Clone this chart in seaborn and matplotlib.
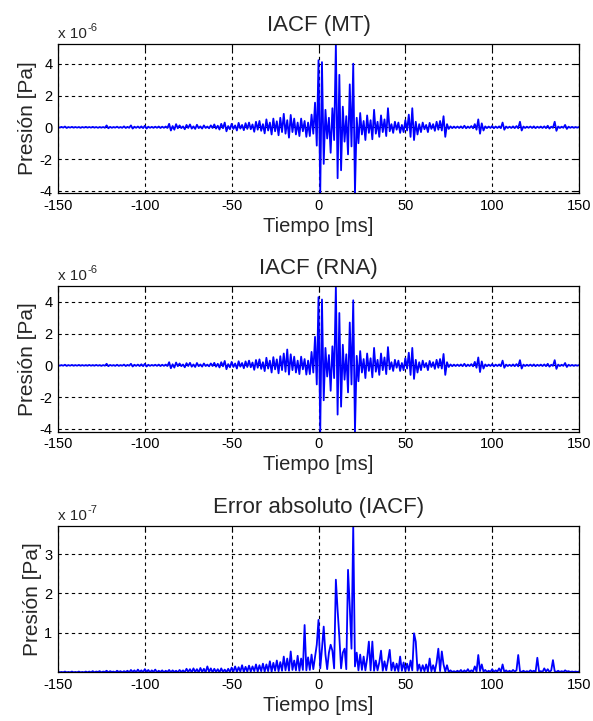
import numpy as np
import pandas as pd
import matplotlib
matplotlib.use('Agg')
import matplotlib.pyplot as plt
import seaborn as sns

# one sample per millisecond, -150 ... 150 ms
time_ms = np.arange(-150, 151)

# IACF (MT), units of 1e-6 Pa
iacf_mt = [
    0.02, -0.02, 0.03, -0.02, 0.05, -0.04, 0.02, -0.02, 0.03, -0.02,
    0.02, -0.02, 0.02, -0.03, 0.02, -0.02, 0.03, -0.02, 0.02, -0.02,
    0.03, -0.02, 0.02, -0.03, 0.02, -0.02, 0.02, -0.03, 0.12, -0.06,
    0.03, -0.03, 0.02, -0.02, 0.04, -0.03, 0.02, -0.03, 0.06, -0.04,
    0.03, -0.03, 0.12, -0.08, 0.04, -0.03, 0.05, -0.04, 0.06, -0.05,
    0.10, -0.08, 0.04, -0.03, 0.03, -0.03, 0.04, -0.03, 0.05, -0.04,
    0.04, -0.03, 0.05, -0.04, 0.22, -0.20, 0.08, -0.15, 0.20, -0.06,
    0.12, -0.05, 0.06, -0.12, 0.15, -0.04, 0.18, -0.08, 0.06, -0.10,
    0.16, -0.05, 0.06, -0.08, 0.12, -0.04, 0.05, -0.06, 0.12, -0.04,
    0.18, -0.08, 0.10, -0.14, 0.22, -0.06, 0.30, -0.25, 0.08, -0.12,
    0.22, -0.10, 0.12, -0.20, 0.28, -0.08, 0.15, -0.18, 0.26, -0.10,
    0.30, -0.12, 0.18, -0.28, 0.35, -0.15, 0.40, -0.22, 0.20, -0.38,
    0.50, -0.20, 0.30, -0.45, 0.55, -0.25, 0.38, -0.50, 0.60, -0.30,
    0.85, -0.40, 0.45, -0.65, 0.78, -0.30, 0.55, -0.45, 0.30, -0.55,
    0.55, -0.25, 0.40, -0.60, 0.30, -0.55, 0.80, -0.40, 1.55, -1.15,
    4.22, -4.13, 4.10, -2.30, 1.10, -0.70, 0.60, -1.60, 1.20, -0.80,
    5.24, -3.20, 3.30, -2.70, 1.30, -0.90, 0.70, -1.70, 2.70, -1.20,
    4.00, -4.13, 0.60, -1.00, 0.90, -0.45, 0.40, -0.80, 0.75, -0.35,
    0.45, -0.75, 1.10, -0.40, 0.35, -0.60, 0.75, -0.30, 0.50, -0.55,
    1.20, -0.25, 0.20, -0.35, 0.35, -0.15, 0.30, -0.35, 0.15, -0.30,
    0.45, -0.20, 0.80, -0.60, 1.20, -0.80, 0.35, -0.45, 0.20, -0.30,
    0.30, -0.12, 0.15, -0.30, 0.28, -0.10, 0.20, -0.22, 0.35, -0.15,
    0.40, -0.20, 0.70, -0.60, 0.20, -0.10, 0.06, -0.05, 0.05, -0.04,
    0.05, -0.04, 0.06, -0.05, 0.10, -0.06, 0.05, -0.04, 0.08, -0.06,
    0.20, -0.15, 0.50, -0.40, 0.25, -0.20, 0.06, -0.05, 0.05, -0.04,
    0.08, -0.06, 0.05, -0.04, 0.06, -0.05, 0.30, -0.15, 0.05, -0.04,
    0.04, -0.04, 0.06, -0.05, 0.08, -0.06, 0.35, -0.20, 0.05, -0.04,
    0.04, -0.03, 0.05, -0.04, 0.06, -0.05, 0.04, -0.03, 0.05, -0.04,
    0.06, -0.05, 0.10, -0.08, 0.04, -0.03, 0.35, -0.22, 0.05, -0.04,
    0.04, -0.03, 0.15, -0.10, 0.04, -0.03, 0.03, -0.03, 0.02, -0.02,
    0.02,
]

# IACF (RNA), units of 1e-6 Pa
iacf_rna = [
    0.02, -0.02, 0.02, -0.02, 0.04, -0.03, 0.02, -0.02, 0.03, -0.02,
    0.02, -0.02, 0.03, -0.02, 0.02, -0.02, 0.02, -0.02, 0.03, -0.02,
    0.02, -0.02, 0.03, -0.02, 0.02, -0.03, 0.02, -0.02, 0.10, -0.05,
    0.03, -0.02, 0.02, -0.03, 0.04, -0.03, 0.02, -0.02, 0.05, -0.04,
    0.03, -0.02, 0.10, -0.07, 0.04, -0.03, 0.05, -0.04, 0.07, -0.05,
    0.10, -0.07, 0.04, -0.03, 0.03, -0.02, 0.04, -0.03, 0.05, -0.04,
    0.04, -0.03, 0.05, -0.04, 0.20, -0.18, 0.07, -0.14, 0.18, -0.05,
    0.12, -0.05, 0.06, -0.12, 0.14, -0.04, 0.16, -0.08, 0.06, -0.10,
    0.15, -0.05, 0.06, -0.08, 0.12, -0.04, 0.05, -0.06, 0.12, -0.04,
    0.16, -0.08, 0.10, -0.13, 0.20, -0.06, 0.28, -0.24, 0.08, -0.12,
    0.22, -0.10, 0.12, -0.20, 0.26, -0.08, 0.15, -0.18, 0.25, -0.10,
    0.30, -0.12, 0.18, -0.28, 0.34, -0.15, 0.38, -0.22, 0.20, -0.36,
    0.48, -0.20, 0.30, -0.45, 0.52, -0.25, 0.38, -0.50, 0.58, -0.30,
    0.75, -0.40, 1.00, -0.58, 0.70, -0.30, 0.55, -0.45, 0.30, -0.55,
    0.55, -0.25, 0.40, -0.58, 0.30, -0.55, 0.85, -0.45, 1.80, -1.20,
    4.30, -4.18, 4.15, -2.20, 1.10, -0.70, 0.65, -1.60, 1.20, -0.80,
    5.00, -3.10, 3.30, -2.60, 1.30, -0.90, 0.70, -1.70, 2.70, -1.20,
    4.10, -4.18, 0.60, -1.00, 0.90, -0.45, 0.40, -0.80, 0.75, -0.35,
    0.45, -0.75, 1.10, -0.40, 0.35, -0.60, 0.75, -0.30, 0.50, -0.55,
    1.15, -0.25, 0.20, -0.35, 0.35, -0.15, 0.30, -0.35, 0.15, -0.30,
    0.45, -0.20, 0.80, -0.60, 1.10, -0.85, 0.35, -0.45, 0.20, -0.30,
    0.30, -0.12, 0.15, -0.30, 0.28, -0.10, 0.20, -0.22, 0.35, -0.15,
    0.40, -0.20, 0.72, -0.60, 0.20, -0.10, 0.06, -0.05, 0.05, -0.04,
    0.05, -0.04, 0.06, -0.05, 0.10, -0.06, 0.05, -0.04, 0.08, -0.06,
    0.22, -0.15, 0.50, -0.42, 0.25, -0.20, 0.06, -0.05, 0.05, -0.04,
    0.08, -0.06, 0.05, -0.04, 0.06, -0.05, 0.30, -0.15, 0.05, -0.04,
    0.04, -0.04, 0.06, -0.05, 0.08, -0.06, 0.33, -0.20, 0.05, -0.04,
    0.04, -0.03, 0.05, -0.04, 0.06, -0.05, 0.04, -0.03, 0.05, -0.04,
    0.06, -0.05, 0.10, -0.08, 0.04, -0.03, 0.33, -0.22, 0.05, -0.04,
    0.04, -0.03, 0.15, -0.10, 0.04, -0.03, 0.03, -0.03, 0.02, -0.02,
    0.02,
]

# absolute error |MT - RNA|, units of 1e-7 Pa
abs_error = [
    0.02, 0.00, 0.01, 0.00, 0.02, 0.00, 0.01, 0.00, 0.02, 0.00,
    0.01, 0.00, 0.02, 0.00, 0.01, 0.00, 0.02, 0.00, 0.02, 0.00,
    0.03, 0.00, 0.02, 0.01, 0.03, 0.00, 0.02, 0.01, 0.04, 0.00,
    0.03, 0.01, 0.02, 0.00, 0.04, 0.01, 0.03, 0.00, 0.03, 0.01,
    0.04, 0.00, 0.06, 0.01, 0.05, 0.00, 0.07, 0.01, 0.05, 0.00,
    0.08, 0.01, 0.06, 0.00, 0.05, 0.01, 0.07, 0.00, 0.04, 0.01,
    0.05, 0.00, 0.04, 0.01, 0.06, 0.00, 0.05, 0.01, 0.04, 0.00,
    0.06, 0.01, 0.05, 0.00, 0.09, 0.01, 0.08, 0.00, 0.10, 0.01,
    0.08, 0.00, 0.11, 0.01, 0.09, 0.00, 0.15, 0.01, 0.10, 0.00,
    0.09, 0.01, 0.08, 0.00, 0.10, 0.01, 0.07, 0.00, 0.09, 0.01,
    0.12, 0.02, 0.15, 0.01, 0.13, 0.02, 0.18, 0.01, 0.14, 0.02,
    0.17, 0.02, 0.15, 0.03, 0.20, 0.02, 0.18, 0.03, 0.22, 0.02,
    0.20, 0.03, 0.28, 0.02, 0.24, 0.04, 0.30, 0.03, 0.26, 0.04,
    0.40, 0.05, 0.35, 0.04, 0.53, 0.06, 0.30, 0.05, 0.42, 0.04,
    0.35, 0.06, 1.20, 0.05, 0.38, 0.06, 0.45, 0.08, 0.40, 0.70,
    1.33, 0.10, 0.60, 1.16, 0.45, 0.08, 0.50, 0.70, 0.55, 0.10,
    2.35, 1.58, 0.90, 0.10, 0.50, 0.60, 0.08, 2.60, 1.67, 0.60,
    3.72, 0.15, 0.50, 0.05, 0.45, 0.06, 0.40, 0.05, 0.35, 0.78,
    0.05, 0.78, 0.04, 0.30, 0.05, 0.25, 0.55, 0.04, 0.28, 0.05,
    0.30, 0.57, 0.05, 0.25, 0.04, 0.22, 0.03, 0.40, 0.04, 0.25,
    0.03, 0.22, 0.04, 0.30, 0.05, 0.99, 0.78, 0.04, 0.20, 0.03,
    0.18, 0.03, 0.20, 0.02, 0.35, 0.03, 0.18, 0.02, 0.25, 0.60,
    0.03, 0.53, 0.20, 0.02, 0.18, 0.01, 0.05, 0.01, 0.03, 0.01,
    0.04, 0.01, 0.06, 0.00, 0.05, 0.01, 0.08, 0.01, 0.05, 0.02,
    0.15, 0.02, 0.44, 0.03, 0.20, 0.02, 0.06, 0.01, 0.04, 0.01,
    0.08, 0.01, 0.05, 0.02, 0.10, 0.01, 0.20, 0.01, 0.05, 0.01,
    0.04, 0.01, 0.06, 0.02, 0.05, 0.44, 0.03, 0.01, 0.04, 0.01,
    0.03, 0.01, 0.05, 0.02, 0.04, 0.01, 0.37, 0.02, 0.03, 0.01,
    0.10, 0.02, 0.08, 0.01, 0.05, 0.31, 0.03, 0.01, 0.04, 0.01,
    0.03, 0.01, 0.05, 0.02, 0.03, 0.01, 0.02, 0.01, 0.02, 0.01,
    0.02,
]

titles = ['IACF (MT)', 'IACF (RNA)', 'Error absoluto (IACF)']
exponents = ['-6', '-6', '-7']
ytick_sets = [[-4, -2, 0, 2, 4], [-4, -2, 0, 2, 4], [1, 2, 3]]
xticks = [-150, -100, -50, 0, 50, 100, 150]

sns.set_style('white')
plt.rcParams['font.family'] = ['Liberation Sans', 'DejaVu Sans']
plt.rcParams['axes.unicode_minus'] = False

fig = plt.figure(figsize=(5.93, 7.21), dpi=100)
boxes = [
    [0.0978, 0.7323, 0.8786, 0.2067],
    [0.0978, 0.4012, 0.8786, 0.2021],
    [0.0978, 0.0675, 0.8786, 0.2034],
]

series = [iacf_mt, iacf_rna, abs_error]
for vals, title, expo, yt, box in zip(series, titles, exponents, ytick_sets, boxes):
    ax = fig.add_axes(box)
    df = pd.DataFrame({'t': time_ms, 'p': vals})
    sns.lineplot(data=df, x='t', y='p', ax=ax, color='#0000ff',
                 linewidth=1.3, estimator=None, sort=False)
    ax.set_xlim(-150, 150)
    ax.set_ylim(min(vals), max(vals))
    ax.set_xticks(xticks)
    ax.set_yticks(yt)
    ax.grid(True, color='black', linestyle=(0, (3, 3)), linewidth=0.8)
    ax.set_axisbelow(True)
    ax.tick_params(direction='in', length=4, width=0.8, top=True, right=True,
                   labelsize=10.5, pad=4, colors='black')
    for s in ax.spines.values():
        s.set_color('black')
        s.set_linewidth(0.9)
    ax.set_title(title, fontsize=16, pad=9)
    ax.set_xlabel('Tiempo [ms]', fontsize=14.5, labelpad=3)
    ax.set_ylabel('Presión [Pa]', fontsize=15, labelpad=2)
    # MATLAB-style exponent label above the y axis
    ax.annotate('x 10', xy=(0, 1), xycoords='axes fraction', xytext=(0, 2),
                textcoords='offset points', ha='left', va='bottom', fontsize=11)
    ax.annotate(expo, xy=(0, 1), xycoords='axes fraction', xytext=(21.5, 8),
                textcoords='offset points', ha='left', va='bottom', fontsize=8)

fig.savefig('out.png', dpi=100)
